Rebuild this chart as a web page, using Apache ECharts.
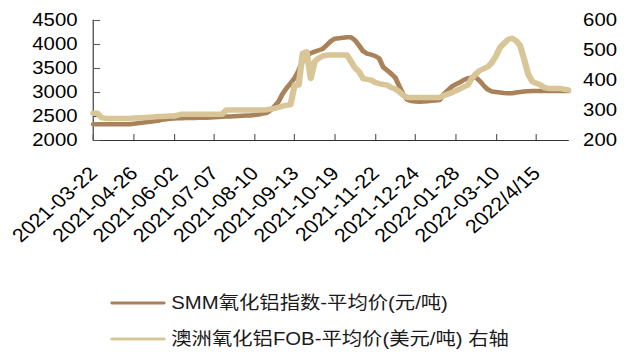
<!DOCTYPE html>
<html>
<head>
<meta charset="utf-8">
<script src="https://cdn.jsdelivr.net/npm/echarts@6/dist/echarts.min.js"></script>
<style>
  html, body { margin: 0; padding: 0; background: #fff; overflow: hidden; }
  #wrap { width: 638px; height: 352px; overflow: hidden; }
  /* the chart is laid out narrower and widened, so text and lines come out broad */
  #chart { width: 565px; height: 352px; transform: scaleX(1.13); transform-origin: 0 0; }
</style>
</head>
<body>
<div id="wrap"><div id="chart"></div></div>
<script>
// Date labels shown every STEP points along the x axis
const tickLabels = [
  '2021-03-22', '2021-04-26', '2021-06-02', '2021-07-07', '2021-08-10', '2021-09-13',
  '2021-10-19', '2021-11-22', '2021-12-24', '2022-01-28', '2022-03-10', '2022/4/15'
];
const STEP = 10;

// SMM alumina index, average price (yuan/tonne), left axis
const smmPrice = [
  2330, 2330, 2330, 2330, 2330, 2330, 2330, 2330, 2330, 2330,
  2340, 2350, 2360, 2370, 2380, 2390, 2400, 2420, 2430, 2440,
  2450, 2455, 2455, 2460, 2460, 2460, 2465, 2465, 2465, 2470,
  2475, 2480, 2485, 2490, 2490, 2495, 2500, 2505, 2510, 2510,
  2520, 2530, 2550, 2560, 2620, 2700, 2800, 2960, 3080, 3180,
  3290, 3450, 3650, 3760, 3810, 3840, 3870, 3900, 3980, 4060,
  4110, 4120, 4130, 4140, 4140, 4080, 3970, 3850, 3800, 3780,
  3750, 3700, 3520, 3450, 3380, 3300, 3120, 2950, 2840, 2810,
  2800, 2795, 2800, 2805, 2815, 2825, 2835, 2950, 3030, 3110,
  3160, 3200, 3250, 3285, 3300, 3306, 3230, 3130, 3050, 3010,
  3000, 2990, 2980, 2972, 2975, 2990, 3000, 3010, 3015, 3020,
  3020, 3020, 3020, 3020, 3020, 3020, 3020, 3020, 3020
];

// Australian alumina FOB, average price (USD/tonne), right axis
const fobPrice = [
  289, 289, 275, 272, 272, 272, 272, 272, 272, 272,
  273, 273, 274, 275, 276, 277, 278, 278, 279, 280,
  280, 283, 286, 286, 286, 286, 286, 286, 286, 286,
  286, 286, 286, 300, 300, 300, 300, 300, 300, 300,
  300, 300, 300, 301, 303, 305, 309, 313, 316, 318,
  383, 383, 489, 494, 405, 462, 473, 480, 483, 483,
  483, 483, 483, 483, 462, 440, 428, 405, 402, 400,
  392, 388, 385, 383, 375, 370, 361, 349, 342, 342,
  342, 342, 342, 342, 342, 342, 342, 348, 353, 358,
  364, 370, 377, 383, 405, 420, 432, 438, 444, 458,
  480, 508, 522, 535, 539, 531, 515, 470, 420, 395,
  389, 384, 375, 372, 372, 372, 372, 369, 367
];

const seriesNames = ['SMM氧化铝指数-平均价(元/吨)', '澳洲氧化铝FOB-平均价(美元/吨) 右轴'];
const categories = smmPrice.map((_, i) => i);

const FONT = '"Liberation Sans", Arial, "Noto Sans CJK SC", sans-serif';
const DARK = '#A9825A';
const LIGHT = '#D8C699';
const capsule = 'path://M3,0 L97,0 A3,3 0 0 1 97,6 L3,6 A3,3 0 0 1 3,0 Z';

// one legend box per series, stacked under the plot
function legendBox(name, top) {
  return {
    data: [name], left: 92.6, top: top,
    itemWidth: 49, itemHeight: 5, icon: capsule,
    selectedMode: false,
    textStyle: { fontFamily: FONT, fontSize: 18, color: '#1a1a1a', lineHeight: 20 }
  };
}

const chart = echarts.init(document.getElementById('chart'), null, { renderer: 'svg' });
chart.setOption({
  animation: false,
  backgroundColor: '#fff',
  grid: { left: 82.6, right: 62, top: 20, bottom: 212, containLabel: false },
  legend: [legendBox(seriesNames[0], 288), legendBox(seriesNames[1], 324)],
  xAxis: {
    type: 'category',
    data: categories,
    boundaryGap: false,
    axisLine: { lineStyle: { color: '#333', width: 1 } },
    axisTick: { inside: true, length: 6, interval: STEP - 1, lineStyle: { color: '#555' } },
    axisLabel: {
      interval: STEP - 1,
      rotate: 45,
      margin: 30,
      fontFamily: FONT,
      fontSize: 19,
      color: '#000',
      formatter: (v, idx) => (idx % STEP === 0 ? (tickLabels[idx / STEP] || '') : '')
    },
    splitLine: { show: false }
  },
  yAxis: [
    {
      type: 'value', min: 2000, max: 4500, interval: 500,
      axisLine: { show: true, lineStyle: { color: '#333', width: 1 } },
      axisTick: { show: true, inside: true, length: 6, lineStyle: { color: '#555' } },
      axisLabel: {
        margin: 14, fontFamily: FONT, fontSize: 18, color: '#000',
        padding: [4, 0, 0, 0], formatter: v => String(v)
      },
      splitLine: { show: false }
    },
    {
      type: 'value', min: 200, max: 600, interval: 100,
      axisLine: { show: false },
      axisTick: { show: false },
      axisLabel: {
        margin: 13, fontFamily: FONT, fontSize: 18, color: '#000',
        padding: [4, 0, 0, 0], formatter: v => String(v)
      },
      splitLine: { show: false }
    }
  ],
  series: [
    {
      name: seriesNames[0], type: 'line', yAxisIndex: 0, data: smmPrice,
      showSymbol: false, symbol: 'none', color: DARK,
      lineStyle: { color: DARK, width: 4.5, cap: 'round', join: 'round' }
    },
    {
      name: seriesNames[1], type: 'line', yAxisIndex: 1, data: fobPrice,
      showSymbol: false, symbol: 'none', color: LIGHT,
      lineStyle: { color: LIGHT, width: 5.5, cap: 'round', join: 'round' }
    }
  ]
});
</script>
</body>
</html>
